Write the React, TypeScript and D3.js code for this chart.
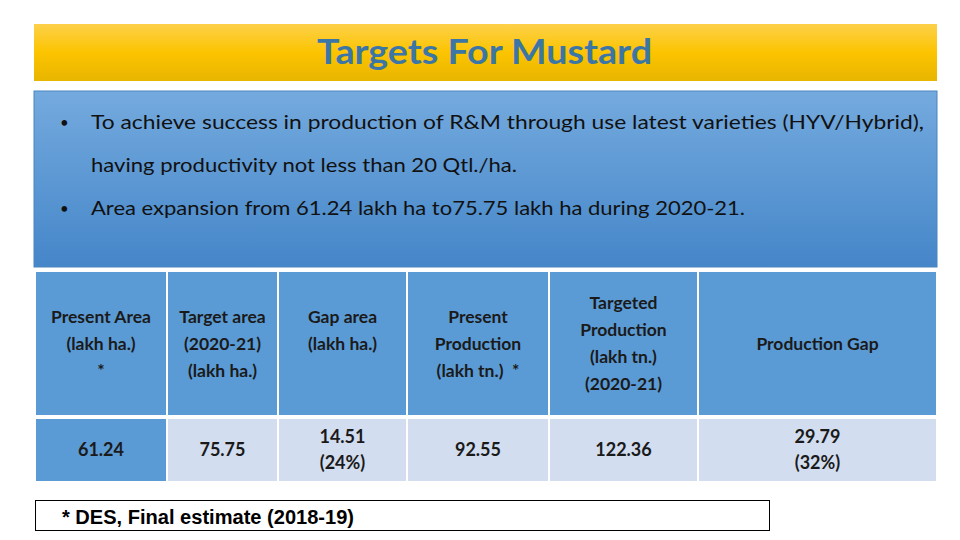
import React, { useEffect, useRef } from 'react'
import * as d3 from 'd3'

// slide content
const title = 'Targets For Mustard'
const bulletLines = [
  'To achieve success in production of R&M through use latest varieties (HYV/Hybrid),',
  'having productivity not less than 20 Qtl./ha.',
  'Area expansion from 61.24 lakh ha to75.75 lakh ha during 2020-21.',
]
const bulletStarts = [true, false, true]
const headers = [
  ['Present Area', '(lakh ha.)', '*'],
  ['Target area', '(2020-21)', '(lakh ha.)'],
  ['Gap area', '(lakh ha.)', ''],
  ['Present', 'Production', '(lakh tn.)  *'],
  ['Targeted', 'Production', '(lakh tn.)', '(2020-21)'],
  ['Production Gap'],
]
const values = ['61.24', '75.75', '14.51', '92.55', '122.36', '29.79']
const shares = ['', '', '(24%)', '', '', '(32%)']
const footnote = '* DES, Final estimate (2018-19)'

// relative column widths (incl. gutter)
const colWeights = [132, 111, 129, 142, 149, 239]

const FONT = 'Lato, "Open Sans", sans-serif'

const App = () => {
  const svgRef = useRef<SVGSVGElement>(null)

  useEffect(() => {
    const svg = d3.select(svgRef.current)
    svg.selectAll('*').remove()

    const defs = svg.append('defs')
    const gold = defs.append('linearGradient').attr('id', 'gold').attr('x1', 0).attr('x2', 0).attr('y1', 0).attr('y2', 1)
    gold.append('stop').attr('offset', '0%').attr('stop-color', '#fdd04a')
    gold.append('stop').attr('offset', '50%').attr('stop-color', '#fcc400')
    gold.append('stop').attr('offset', '100%').attr('stop-color', '#e8b500')
    const blue = defs.append('linearGradient').attr('id', 'blue').attr('x1', 0).attr('x2', 0).attr('y1', 0).attr('y2', 1)
    blue.append('stop').attr('offset', '0%').attr('stop-color', '#74aade')
    blue.append('stop').attr('offset', '100%').attr('stop-color', '#4586c9')

    // title bar
    svg.append('rect').attr('x', 34).attr('y', 24).attr('width', 903).attr('height', 57).attr('fill', 'url(#gold)')
    svg.append('text')
      .attr('x', 317).attr('y', 64)
      .attr('font-family', FONT).attr('font-weight', 700).attr('font-size', 35)
      .attr('textLength', 335).attr('lengthAdjust', 'spacingAndGlyphs')
      .attr('fill', '#3b76a6')
      .text(title)

    // bullet box
    svg.append('rect').attr('x', 34).attr('y', 91).attr('width', 903).attr('height', 176)
      .attr('fill', 'url(#blue)').attr('stroke', '#4a84bf').attr('stroke-width', 1)

    const lineY = d3.scalePoint<number>().domain(d3.range(bulletLines.length)).range([129, 215])
    const lineWidths = [833, 426, 654]
    const bl = svg.append('g').attr('font-family', FONT).attr('font-size', 20).attr('fill', '#111')
    bl.selectAll('text.line')
      .data(bulletLines)
      .join('text')
      .attr('class', 'line')
      .attr('x', 91)
      .attr('y', (d, i) => lineY(i)!)
      .attr('textLength', (d, i) => lineWidths[i])
      .attr('lengthAdjust', 'spacingAndGlyphs')
      .text(d => d)
    bl.selectAll('text.dot')
      .data(bulletLines.map((d, i) => i).filter(i => bulletStarts[i]))
      .join('text')
      .attr('class', 'dot')
      .attr('x', 60)
      .attr('y', d => lineY(d)! - 1)
      .attr('font-size', 15)
      .text('•')

    // table
    const edges = [0, ...d3.cumsum(colWeights)]
    const x = d3.scaleLinear().domain([0, d3.sum(colWeights)]).range([36, 938])
    const gap = 2
    const headTop = 272, headBot = 415, dataTop = 419, dataBot = 481

    const table = svg.append('g').attr('font-family', FONT).attr('font-size', 17.5).attr('fill', '#1a1a1a')

    table.selectAll('rect.head')
      .data(headers)
      .join('rect')
      .attr('class', 'head')
      .attr('x', (d, i) => x(edges[i]))
      .attr('y', headTop)
      .attr('width', (d, i) => x(edges[i + 1]) - x(edges[i]) - gap)
      .attr('height', headBot - headTop)
      .attr('fill', '#5b9bd5')

    table.selectAll('rect.val')
      .data(values)
      .join('rect')
      .attr('class', 'val')
      .attr('x', (d, i) => x(edges[i]))
      .attr('y', dataTop)
      .attr('width', (d, i) => x(edges[i + 1]) - x(edges[i]) - gap)
      .attr('height', dataBot - dataTop)
      .attr('fill', (d, i) => (i === 0 ? '#5b9bd5' : '#d2ddef'))

    const lh = 27
    const headMid = (headTop + headBot) / 2
    headers.forEach((lines, i) => {
      const cx = (x(edges[i]) + x(edges[i + 1]) - gap) / 2
      table.append('text')
        .attr('text-anchor', 'middle')
        .attr('font-weight', 700)
        .style('white-space', 'pre')
        .selectAll('tspan')
        .data(lines)
        .join('tspan')
        .attr('x', cx)
        .attr('y', (d, j) => headMid + (j - (lines.length - 1) / 2) * lh + 6)
        .text(d => d)
    })

    const dataMid = (dataTop + dataBot) / 2
    values.forEach((v, i) => {
      const cx = (x(edges[i]) + x(edges[i + 1]) - gap) / 2
      const lines = shares[i] ? [v, shares[i]] : [v]
      table.append('text')
        .attr('text-anchor', 'middle')
        .attr('font-weight', 700)
        .attr('font-size', 18)
        .selectAll('tspan')
        .data(lines)
        .join('tspan')
        .attr('x', cx)
        .attr('y', (d, j) => dataMid + (j - (lines.length - 1) / 2) * 26 + 6)
        .text(d => d)
    })

    // footnote
    svg.append('rect').attr('x', 35.5).attr('y', 500.5).attr('width', 734).attr('height', 30)
      .attr('fill', '#fff').attr('stroke', '#000').attr('stroke-width', 1)
    svg.append('text')
      .attr('x', 62).attr('y', 524)
      .attr('font-family', '"Liberation Sans Narrow", "Liberation Sans", Arial, sans-serif')
      .attr('font-weight', 700).attr('font-size', 20)
      .attr('textLength', 292).attr('lengthAdjust', 'spacingAndGlyphs')
      .attr('fill', '#000')
      .text(footnote)
  }, [])

  return (
    <svg
      ref={svgRef}
      width={960}
      height={540}
      style={{ position: 'absolute', left: 0, top: 0, background: '#fff' }}
    />
  )
}

export default App
